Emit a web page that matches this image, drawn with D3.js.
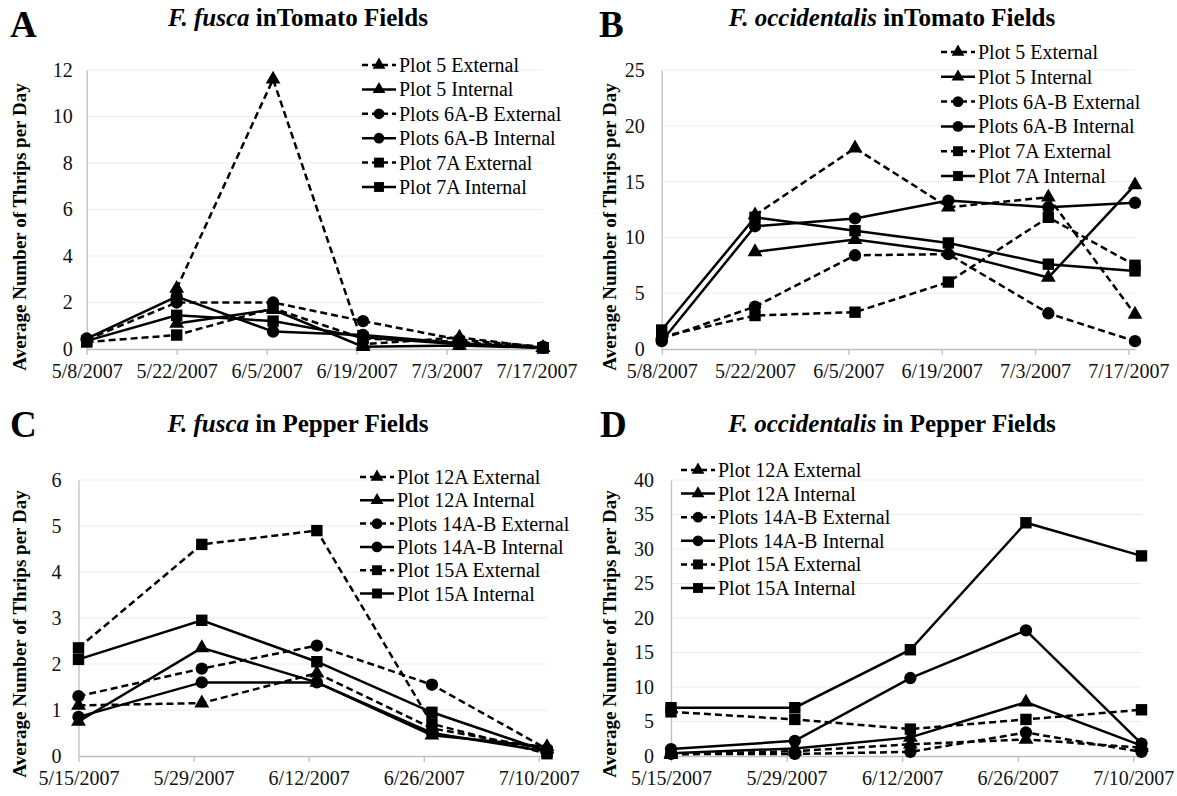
<!DOCTYPE html>
<html>
<head>
<meta charset="utf-8">
<script src="https://cdn.jsdelivr.net/npm/d3@7"></script>
<style>
  body { margin: 0; background: #fff; }
  svg text { font-family: "Liberation Serif", "Times New Roman", Times, "DejaVu Serif", serif; }
</style>
</head>
<body>
<div id="chart"></div>
<script>
const W = 1177, H = 796;
const SERIF = '"Liberation Serif", "Times New Roman", Times, "DejaVu Serif", serif';

// dates of the samples and the axis ticks
const tomatoDates = ["2007-05-08", "2007-05-22", "2007-06-06", "2007-06-20", "2007-07-05", "2007-07-18"];
const tomatoTicks = ["2007-05-08", "2007-05-22", "2007-06-05", "2007-06-19", "2007-07-03", "2007-07-17"];
const pepperDates = ["2007-05-15", "2007-05-30", "2007-06-13", "2007-06-27", "2007-07-11"];
const pepperTicks = ["2007-05-15", "2007-05-29", "2007-06-12", "2007-06-26", "2007-07-10"];

const tomatoSeries = ["Plot 5 External", "Plot 5 Internal", "Plots 6A-B External",
                      "Plots 6A-B Internal", "Plot 7A External", "Plot 7A Internal"];
const pepperSeries = ["Plot 12A External", "Plot 12A Internal", "Plots 14A-B External",
                      "Plots 14A-B Internal", "Plot 15A External", "Plot 15A Internal"];

// average number of thrips per day, one row per series
const fuscaTomato = [
  [null, 2.6, 11.6, 0.2, 0.5, 0.05],
  [null, 1.1, 1.7, 0.1, 0.15, 0.05],
  [0.4, 2.0, 2.0, 1.2, 0.4, 0.1],
  [0.45, 2.25, 0.75, 0.6, 0.25, 0.05],
  [0.3, 0.6, 1.75, 0.45, 0.3, 0.05],
  [0.35, 1.45, 1.2, 0.5, 0.2, 0.05]
];
const occTomato = [
  [null, 12.0, 18.0, 12.7, 13.6, 3.1],
  [null, 8.7, 9.8, 8.7, 6.4, 14.7],
  [0.9, 3.8, 8.4, 8.5, 3.2, 0.7],
  [0.7, 11.0, 11.7, 13.3, 12.7, 13.1],
  [1.1, 3.0, 3.3, 6.0, 11.8, 7.5],
  [1.7, 11.8, 10.6, 9.5, 7.6, 7.0]
];
const fuscaPepper = [
  [1.1, 1.15, 1.8, 0.6, 0.15],
  [0.75, 2.35, 1.6, 0.45, 0.2],
  [1.3, 1.9, 2.4, 1.55, 0.15],
  [0.85, 1.6, 1.6, 0.5, 0.1],
  [2.35, 4.6, 4.9, 0.7, 0.05],
  [2.1, 2.95, 2.05, 0.95, 0.1]
];
const occPepper = [
  [0.2, 0.7, 1.7, 2.4, 1.2],
  [0.4, 1.1, 2.7, 7.8, 1.5],
  [0.3, 0.3, 0.6, 3.4, 0.6],
  [1.0, 2.2, 11.3, 18.2, 1.8],
  [6.4, 5.3, 3.9, 5.3, 6.7],
  [7.0, 7.0, 15.4, 33.8, 29.0]
];

const yTicksA = [0, 2, 4, 6, 8, 10, 12];
const yTicksB = [0, 5, 10, 15, 20, 25];
const yTicksC = [0, 1, 2, 3, 4, 5, 6];
const yTicksD = [0, 5, 10, 15, 20, 25, 30, 35, 40];

const parse = d3.timeParse("%Y-%m-%d");
const fmt = d3.timeFormat("%-m/%-d/%Y");

const panels = [
  { letter: "A", species: "F. fusca", rest: " inTomato Fields", dates: tomatoDates, ticks: tomatoTicks,
    names: tomatoSeries, values: fuscaTomato, yTicks: yTicksA,
    x0: 86.7, x1: 543, y0: 349, y1: 70, lx: 10, ly: 37, titleX: 298, titleY: 26,
    axisTitleX: 19, axisTitleY: 227, legX: 362, legY: 65, legStep: 24.4 },
  { letter: "B", species: "F. occidentalis", rest: " inTomato Fields", dates: tomatoDates, ticks: tomatoTicks,
    names: tomatoSeries, values: occTomato, yTicks: yTicksB,
    x0: 661.7, x1: 1135, y0: 349, y1: 70, lx: 599, ly: 37, titleX: 892, titleY: 26,
    axisTitleX: 609, axisTitleY: 227, legX: 941, legY: 52, legStep: 24.8 },
  { letter: "C", species: "F. fusca", rest: " in Pepper Fields", dates: pepperDates, ticks: pepperTicks,
    names: pepperSeries, values: fuscaPepper, yTicks: yTicksC,
    x0: 78.5, x1: 547, y0: 756, y1: 480, lx: 10, ly: 437, titleX: 298, titleY: 432,
    axisTitleX: 19, axisTitleY: 634, legX: 360, legY: 477, legStep: 23.3 },
  { letter: "D", species: "F. occidentalis", rest: " in Pepper Fields", dates: pepperDates, ticks: pepperTicks,
    names: pepperSeries, values: occPepper, yTicks: yTicksD,
    x0: 671, x1: 1141.5, y0: 756, y1: 480, lx: 600, ly: 437, titleX: 892, titleY: 432,
    axisTitleX: 609, axisTitleY: 634, legX: 681, legY: 470, legStep: 23.6 }
];

const svg = d3.select("#chart").append("svg")
  .attr("width", W).attr("height", H);

const symbols = [d3.symbolTriangle, d3.symbolTriangle, d3.symbolCircle,
                 d3.symbolCircle, d3.symbolSquare, d3.symbolSquare];
const symSize = [95, 95, 120, 120, 130, 130];
const DASH = "7,4";

panels.forEach(p => {
  const g = svg.append("g");
  const dates = p.dates.map(parse);
  const ticks = p.ticks.map(parse);
  const yMax = p.yTicks[p.yTicks.length - 1];

  const x = d3.scaleTime().domain([dates[0], dates[dates.length - 1]]).range([p.x0, p.x1]);
  const y = d3.scaleLinear().domain([0, yMax]).range([p.y0, p.y1]);

  // panel letter and title
  g.append("text").attr("x", p.lx).attr("y", p.ly)
    .attr("font-size", 37).attr("font-weight", "bold").text(p.letter);
  const t = g.append("text").attr("x", p.titleX).attr("y", p.titleY)
    .attr("text-anchor", "middle").attr("font-size", 25).attr("font-weight", "bold");
  t.append("tspan").attr("font-style", "italic").text(p.species);
  t.append("tspan").text(p.rest);

  // gridlines
  g.append("g").selectAll("line").data(p.yTicks.slice(1)).join("line")
    .attr("x1", p.x0).attr("x2", p.x1)
    .attr("y1", d => y(d)).attr("y2", d => y(d))
    .attr("stroke", "#ececec").attr("stroke-width", 1);

  // y axis
  const ya = g.append("g").attr("transform", `translate(${p.x0},0)`)
    .call(d3.axisLeft(y).tickValues(p.yTicks).tickFormat(d3.format("d"))
      .tickSize(0).tickPadding(p.letter === "A" ? 14 : 17));
  ya.attr("font-family", SERIF);
  ya.select(".domain").attr("stroke", "#bfbfbf").attr("stroke-width", 1.3);
  ya.selectAll("text").attr("font-size", 20).attr("fill", "#111");

  // x axis
  const xa = g.append("g").attr("transform", `translate(0,${p.y0})`)
    .call(d3.axisBottom(x).tickValues(ticks).tickFormat(fmt).tickSize(6).tickSizeOuter(0).tickPadding(9));
  xa.attr("font-family", SERIF);
  xa.select(".domain").attr("stroke", "#bfbfbf").attr("stroke-width", 1.3);
  xa.selectAll(".tick line").attr("stroke", "#bfbfbf").attr("stroke-width", 1.3);
  xa.selectAll("text").attr("font-size", 20).attr("fill", "#111");

  // y axis title
  g.append("text")
    .attr("transform", `translate(${p.axisTitleX},${p.axisTitleY}) rotate(-90)`)
    .attr("text-anchor", "middle").attr("dominant-baseline", "central")
    .attr("font-size", 19).attr("font-weight", "bold")
    .text("Average Number of Thrips per Day");

  // series
  const line = d3.line().defined(d => d.v != null).x(d => x(d.date)).y(d => y(d.v));
  p.values.forEach((vals, i) => {
    const pts = vals.map((v, k) => ({ date: dates[k], v }));
    g.append("path").datum(pts)
      .attr("d", line).attr("fill", "none").attr("stroke", "#000")
      .attr("stroke-width", 2.5)
      .attr("stroke-dasharray", i % 2 === 0 ? DASH : null);
    g.append("g").selectAll("path").data(pts.filter(d => d.v != null)).join("path")
      .attr("transform", d => `translate(${x(d.date)},${y(d.v)})`)
      .attr("d", d3.symbol().type(symbols[i]).size(symSize[i]))
      .attr("fill", "#000");
  });

  // legend
  const leg = g.append("g");
  p.names.forEach((name, i) => {
    const ly = p.legY + i * p.legStep;
    leg.append("line").attr("x1", p.legX).attr("x2", p.legX + 34)
      .attr("y1", ly).attr("y2", ly).attr("stroke", "#000").attr("stroke-width", 2.5)
      .attr("stroke-dasharray", i % 2 === 0 ? "6,4" : null);
    leg.append("path").attr("transform", `translate(${p.legX + 17},${ly})`)
      .attr("d", d3.symbol().type(symbols[i]).size(symSize[i] * 0.75)).attr("fill", "#000");
    leg.append("text").attr("x", p.legX + 37).attr("y", ly)
      .attr("dominant-baseline", "central").attr("font-size", 20).text(name);
  });
});
</script>
</body>
</html>
